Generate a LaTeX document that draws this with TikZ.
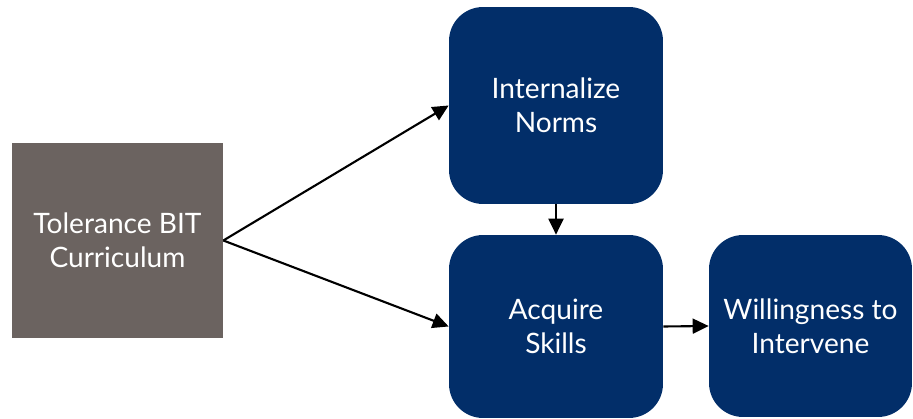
\documentclass[tikz,border=0pt]{standalone}
\usepackage{fontspec}
\setmainfont{Lato}
\usepackage{tikz}
\usetikzlibrary{arrows.meta}
\usetikzlibrary{positioning}
\definecolor{boxblue}{RGB}{2,46,105}
\definecolor{boxgray}{RGB}{107,99,96}
\tikzstyle{stage} = [rectangle, rounded corners=0.68cm, fill=boxblue, text=white, align=center, font=\fontsize{16}{19.4}\selectfont, minimum width=4.28cm, minimum height=3.66cm, inner sep=0pt]
\tikzstyle{source} = [rectangle, fill=boxgray, text=white, align=center, font=\fontsize{16}{19.4}\selectfont, minimum width=4.22cm, minimum height=3.9cm, inner sep=0pt]
\tikzstyle{link} = [-{Triangle[length=0.32cm,width=0.3cm]}, line width=1.2pt, black]

\begin{document}
\begin{tikzpicture}[x=0.02cm, y=0.02cm]
\useasboundingbox (0,0) rectangle (913,419);

\node (curr) [source] at (117.5,178.5) {Tolerance BIT\\Curriculum};
\node (norms) [stage, minimum height=3.94cm] at (556,313.5) {Internalize\\Norms};
\node (skills) [stage] at (556,92.5) {Acquire\\Skills};
\node (will) [stage, minimum width=4.06cm, minimum height=3.64cm] at (810.5,93) {Willingness to\\Intervene};

\draw [link] (curr.east) -- (norms.west);
\draw [link] (curr.east) -- (skills.west);
\draw [link] (norms.south) -- (skills.north);
\draw [link] (skills.east) -- (will.west);
\end{tikzpicture}
\end{document}
